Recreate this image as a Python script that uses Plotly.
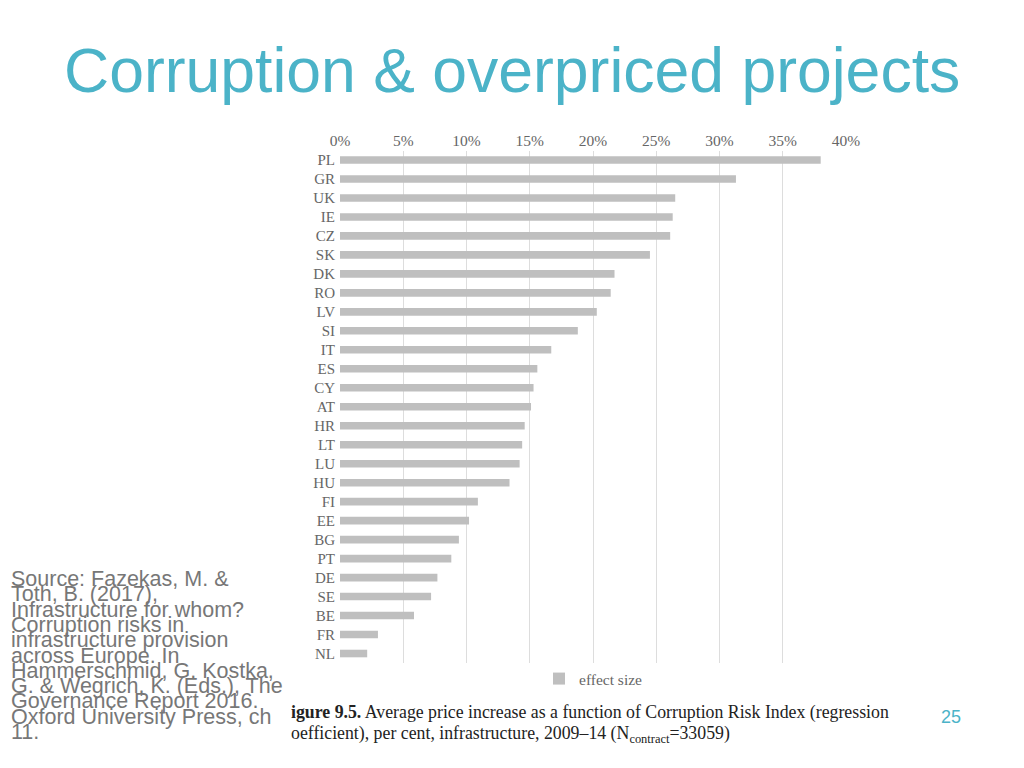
import plotly.graph_objects as go

countries = ["PL", "GR", "UK", "IE", "CZ", "SK", "DK", "RO", "LV", "SI", "IT", "ES", "CY", "AT",
             "HR", "LT", "LU", "HU", "FI", "EE", "BG", "PT", "DE", "SE", "BE", "FR", "NL"]
effect_size = [38.0, 31.3, 26.5, 26.3, 26.1, 24.5, 21.7, 21.4, 20.3, 18.8, 16.7, 15.6, 15.3, 15.1,
               14.6, 14.4, 14.2, 13.4, 10.9, 10.2, 9.4, 8.8, 7.7, 7.2, 5.85, 3.0, 2.15]
x_ticks = [0, 5, 10, 15, 20, 25, 30, 35, 40]

source_lines = [
    "Source: Fazekas, M. &",
    "Toth, B. (2017),",
    "Infrastructure for whom?",
    "Corruption risks in",
    "infrastructure provision",
    "across Europe. In",
    "Hammerschmid, G. Kostka,",
    "G. & Wegrich, K. (Eds.), The",
    "Governance Report 2016.",
    "Oxford University Press, ch",
    "11.",
]

OFF = 8  # page body margin
W, H = 1024 - 2 * OFF, 768 - 2 * OFF
TEAL = "#4BB3C8"
SERIF = "Liberation Serif, DejaVu Serif, serif"
SANS = "Liberation Sans, Arial, sans-serif"


def px(x):
    return (x - OFF) / W


def py(y):
    return 1 - (y - OFF) / H


fig = go.Figure()
fig.add_trace(go.Bar(
    x=effect_size, y=countries, orientation="h",
    marker=dict(color="#BFBFBF", line=dict(width=0)),
    name="effect size", showlegend=True,
))

fig.update_layout(
    width=W, height=H,
    margin=dict(l=0, r=0, t=0, b=0),
    paper_bgcolor="white", plot_bgcolor="white",
    bargap=0.6,
    xaxis=dict(
        domain=[px(340), px(846)], range=[0, 40], side="top",
        tickmode="array", tickvals=x_ticks, ticktext=[f"{v}%" for v in x_ticks],
        showgrid=True, gridcolor="#DDDDDD", gridwidth=1,
        zeroline=False, showline=False, ticks="",
        tickfont=dict(family=SERIF, size=15.5, color="#666666"),
        automargin=False, fixedrange=True,
    ),
    yaxis=dict(
        domain=[py(663), py(150.5)],
        categoryorder="array", categoryarray=countries, autorange="reversed",
        tickmode="array", tickvals=countries, ticktext=countries,
        showgrid=False, zeroline=False, showline=False, ticks="",
        tickfont=dict(family=SERIF, size=15, color="#666666"),
        ticklabelstandoff=4,
        automargin=False, fixedrange=True,
    ),
    legend=dict(
        orientation="h", x=px(539), y=py(679), xanchor="left", yanchor="middle",
        font=dict(family=SERIF, size=15.5, color="#666666"),
        bgcolor="rgba(0,0,0,0)", itemwidth=30,
    ),
    showlegend=True,
)

annotations = [
    dict(text="Corruption & overpriced projects", x=px(511.5), y=py(70),
         xanchor="center", yanchor="middle",
         font=dict(family=SANS, size=62.5, color=TEAL)),
    dict(text="<b>igure 9.5.</b> Average price increase as a function of Corruption Risk Index (regression",
         x=px(289), y=py(712), xanchor="left", yanchor="middle",
         font=dict(family=SERIF, size=17.8, color="#222222")),
    dict(text="oefficient), per cent, infrastructure, 2009–14 (N<sub>contract</sub>=33059)",
         x=px(289), y=py(734), xanchor="left", yanchor="middle",
         font=dict(family=SERIF, size=17.8, color="#222222")),
    dict(text="25", x=px(951), y=py(717), xanchor="center", yanchor="middle",
         font=dict(family=SANS, size=18, color=TEAL)),
]
for i, line in enumerate(source_lines):
    annotations.append(dict(
        text=line, x=px(9), y=py(579 + i * 15.3), xanchor="left", yanchor="middle",
        font=dict(family=SANS, size=21.5, color="#777777"),
    ))
for a in annotations:
    a.update(xref="paper", yref="paper", showarrow=False)
fig.update_layout(annotations=annotations)

fig.write_html("out.html", config={"displayModeBar": False})
